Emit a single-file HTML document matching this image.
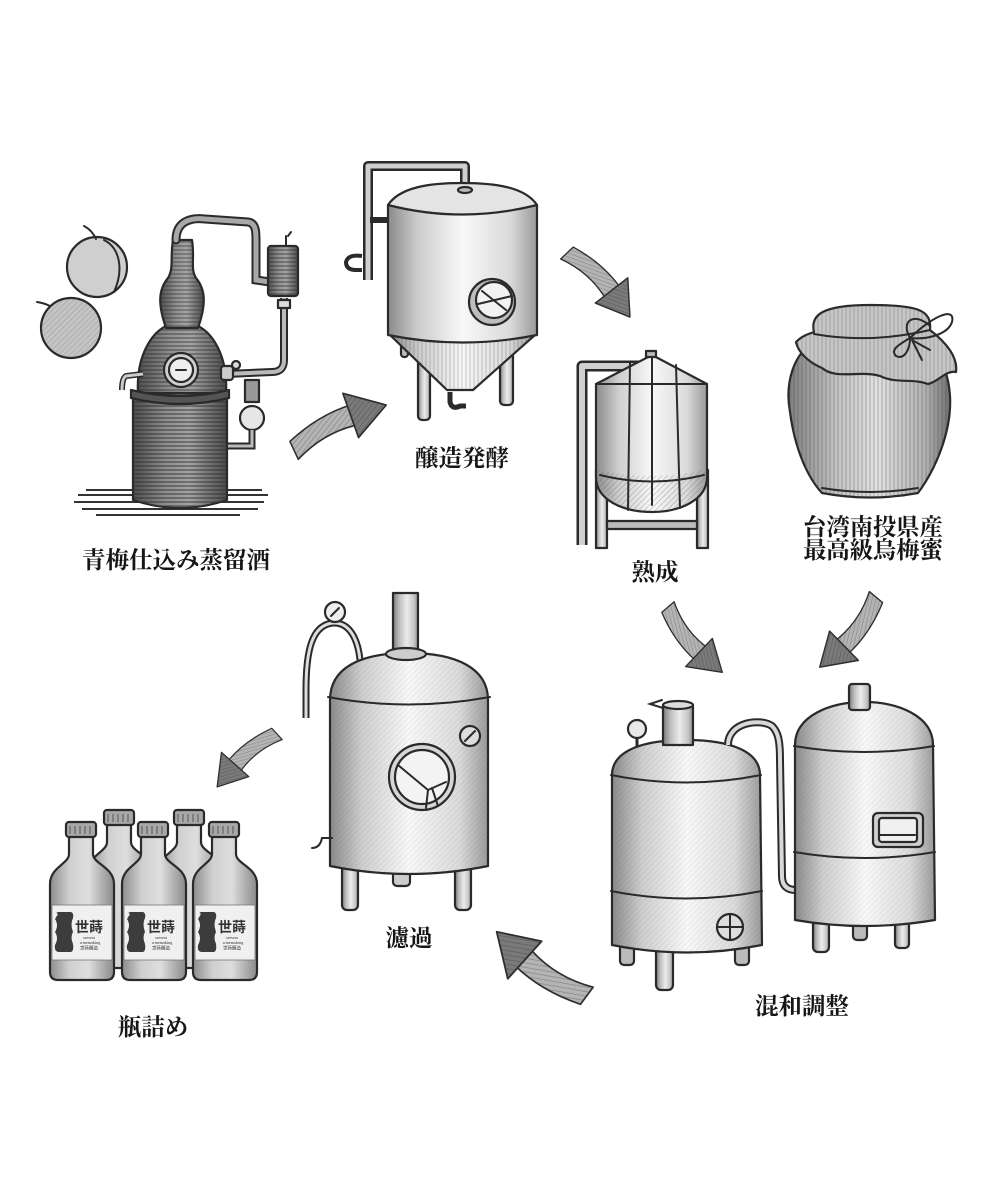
<!DOCTYPE html>
<html><head><meta charset="utf-8">
<style>
html,body{margin:0;padding:0;background:#fff;}
svg{display:block}
.t{font-family:"Liberation Serif","Noto Serif CJK JP","Noto Serif CJK SC",serif;font-weight:700;fill:#161616;text-anchor:middle;}
.o{stroke:#2a2a2a;stroke-width:2.2;stroke-linejoin:round;stroke-linecap:round;}
.p{fill:none;stroke:#2a2a2a;stroke-width:2;stroke-linecap:round;}
</style></head>
<body>
<svg width="1000" height="1200" viewBox="0 0 1000 1200" xmlns="http://www.w3.org/2000/svg">
<defs>
<linearGradient id="cyl" x1="0" x2="1" y1="0" y2="0">
 <stop offset="0" stop-color="#8a8a8a"/><stop offset="0.2" stop-color="#cdcdcd"/><stop offset="0.5" stop-color="#f8f8f8"/><stop offset="0.82" stop-color="#dadada"/><stop offset="1" stop-color="#999"/>
</linearGradient>
<linearGradient id="cyl2" x1="0" x2="1" y1="0" y2="0">
 <stop offset="0" stop-color="#7a7a7a"/><stop offset="0.25" stop-color="#bdbdbd"/><stop offset="0.55" stop-color="#ececec"/><stop offset="0.85" stop-color="#c4c4c4"/><stop offset="1" stop-color="#888"/>
</linearGradient>
<linearGradient id="dark" x1="0" x2="1" y1="0" y2="0">
 <stop offset="0" stop-color="#4e4e4e"/><stop offset="0.35" stop-color="#8e8e8e"/><stop offset="0.6" stop-color="#a4a4a4"/><stop offset="1" stop-color="#4a4a4a"/>
</linearGradient>
<linearGradient id="bot" x1="0" x2="1" y1="0" y2="0">
 <stop offset="0" stop-color="#8c8c8c"/><stop offset="0.3" stop-color="#cfcfcf"/><stop offset="0.6" stop-color="#dedede"/><stop offset="1" stop-color="#8a8a8a"/>
</linearGradient>
<linearGradient id="jar" x1="0" x2="1" y1="0" y2="0">
 <stop offset="0" stop-color="#7e7e7e"/><stop offset="0.3" stop-color="#c4c4c4"/><stop offset="0.55" stop-color="#e2e2e2"/><stop offset="0.85" stop-color="#b0b0b0"/><stop offset="1" stop-color="#707070"/>
</linearGradient>
<pattern id="hl" width="6" height="4" patternUnits="userSpaceOnUse"><line x1="0" y1="2" x2="6" y2="2" stroke="#2e2e2e" stroke-width="1.1"/></pattern>
<pattern id="vl" width="4" height="6" patternUnits="userSpaceOnUse"><line x1="2" y1="0" x2="2" y2="6" stroke="#444" stroke-width="0.8"/></pattern>
<pattern id="dg" width="4" height="4" patternUnits="userSpaceOnUse" patternTransform="rotate(45)"><line x1="0" y1="0" x2="0" y2="4" stroke="#3a3a3a" stroke-width="1.2"/></pattern>
<g id="arr">
 <path d="M0,40 Q30,18 62,12 L64,32 Q32,36 6,58 Z" fill="#b4b4b4" stroke="#2e2e2e" stroke-width="1.5" stroke-linejoin="round"/>
 <path d="M0,40 Q30,18 62,12 L64,32 Q32,36 6,58 Z" fill="url(#dg)" opacity="0.4"/>
 <path d="M56,0 L96,16 L66,44 Z" fill="#7a7a7a" stroke="#2e2e2e" stroke-width="1.6" stroke-linejoin="round"/>
 <path d="M56,0 L96,16 L66,44 Z" fill="url(#dg)" opacity="0.5"/>
</g>
<g id="bottle">
 <path d="M19,14 L19,32 C19,42 0,45 0,62 L0,150 Q0,158 8,158 L56,158 Q64,158 64,150 L64,62 C64,45 43,42 43,32 L43,14 Z" fill="url(#bot)" class="o" stroke-width="1.8"/>
 <rect x="16" y="0" width="30" height="15" rx="3" fill="#a8a8a8" class="o" stroke-width="1.8"/>
 <path d="M20,4 v8 M25,4 v8 M30,4 v8 M35,4 v8 M40,4 v8" stroke="#555" stroke-width="1"/>
</g>
<g id="label">
 <rect x="2" y="83" width="60" height="55" fill="#f0f0f0" stroke="#777" stroke-width="0.8"/>
 <path d="M8,92 Q5,91 8,90 L21,90 Q24,91 23,96 Q20,102 23,110 Q20,115 23,122 Q24,129 21,130 L8,130 Q4,129 5,123 Q9,116 5,110 Q9,103 5,97 Z" fill="#3c3c3c"/>
 <text x="39" y="110" font-size="14" font-family="'Noto Sans CJK JP','Noto Sans CJK SC',sans-serif" font-weight="700" fill="#333" text-anchor="middle">世蒔</text>
 <text x="39" y="117" font-size="4.2" font-family="'Liberation Serif',serif" fill="#333" text-anchor="middle">seesera</text>
 <text x="40" y="122" font-size="4.2" font-family="'Liberation Serif',serif" fill="#333" text-anchor="middle">winemaking</text>
 <text x="39" y="127.5" font-size="4.5" font-family="'Noto Sans CJK JP',sans-serif" fill="#333" text-anchor="middle">世蒔醸造</text>
</g>
</defs>

<!-- ===== Plums ===== -->
<circle cx="97" cy="267" r="30" fill="#cfcfcf" class="o"/>
<path d="M104,240 C120,248 124,270 114,292" class="p" stroke-width="1.4"/>
<path d="M96,239 Q92,230 84,226" class="p" stroke-width="2"/>
<circle cx="71" cy="328" r="30" fill="#c4c4c4" class="o"/>
<path d="M50,306 Q44,303 37,302" class="p" stroke-width="2"/>
<circle cx="71" cy="328" r="30" fill="url(#dg)" opacity="0.25"/>

<!-- ===== Still ===== -->
<g>
 <path d="M78,495 L268,495 M74,502 L264,502 M82,509 L258,509 M96,515 L240,515 M86,490 L150,490 M210,490 L262,490" stroke="#333" stroke-width="2"/>
 <path d="M133,393 L133,500 Q180,516 227,500 L227,393 Z" fill="url(#dark)" class="o"/>
 <path d="M133,393 L133,500 Q180,516 227,500 L227,393 Z" fill="url(#hl)" opacity="0.8"/>
 <path d="M138,393 C136,355 152,333 166,326 L198,326 C212,333 228,355 226,393 Z" fill="url(#dark)" class="o"/>
 <path d="M138,393 C136,355 152,333 166,326 L198,326 C212,333 228,355 226,393 Z" fill="url(#hl)" opacity="0.7"/>
 <path d="M131,390 Q180,402 229,390 L229,398 Q180,410 131,398 Z" fill="#555" class="o" stroke-width="1.5"/>
 <path d="M166,328 C158,305 158,290 168,278 C174,268 170,258 173,240 L192,240 C195,258 190,268 196,278 C206,290 206,305 198,328 Z" fill="url(#dark)" class="o"/>
 <path d="M166,328 C158,305 158,290 168,278 C174,268 170,258 173,240 L192,240 C195,258 190,268 196,278 C206,290 206,305 198,328 Z" fill="url(#hl)" opacity="0.6"/>
 <path d="M176,240 C176,222 190,217 205,219 L248,222 C256,223 256,232 256,240 L256,280 L270,282" fill="none" stroke="#2a2a2a" stroke-width="9" stroke-linecap="round"/>
 <path d="M176,240 C176,222 190,217 205,219 L248,222 C256,223 256,232 256,240 L256,280 L270,282" fill="none" stroke="#a8a8a8" stroke-width="5" stroke-linecap="round"/>
 <rect x="268" y="246" width="30" height="50" rx="3" fill="url(#dark)" class="o"/>
 <rect x="268" y="246" width="30" height="50" fill="url(#hl)" opacity="0.7"/>
 <path d="M286,246 L286,236 M288,236 l3,-4" class="p"/>
 <path d="M284,298 L284,360 Q284,372 272,372 L226,374" fill="none" stroke="#2a2a2a" stroke-width="8"/>
 <path d="M284,298 L284,360 Q284,372 272,372 L226,374" fill="none" stroke="#bbb" stroke-width="4"/>
 <rect x="278" y="300" width="12" height="8" fill="#ddd" class="o" stroke-width="1.5"/>
 <circle cx="181" cy="370" r="17" fill="#d0d0d0" class="o"/>
 <circle cx="181" cy="370" r="12" fill="#eee" class="o" stroke-width="1.5"/>
 <path d="M176,370 h10" class="p"/>
 <path d="M143,374 L126,376 Q122,378 122,390" fill="none" stroke="#2a2a2a" stroke-width="6"/>
 <path d="M143,374 L126,376 Q122,378 122,390" fill="none" stroke="#ccc" stroke-width="3"/>
 <rect x="221" y="366" width="12" height="14" rx="3" fill="#ccc" class="o" stroke-width="1.5"/>
 <circle cx="236" cy="365" r="4" fill="#ddd" class="o" stroke-width="1.4"/>
 <rect x="245" y="380" width="14" height="22" fill="#999" class="o" stroke-width="1.5"/>
 <circle cx="252" cy="418" r="12" fill="#e6e6e6" class="o"/>
 <path d="M252,430 L252,446 L228,446" fill="none" stroke="#2a2a2a" stroke-width="7"/>
 <path d="M252,430 L252,446 L228,446" fill="none" stroke="#bbb" stroke-width="3"/>
</g>

<!-- ===== Fermentation tank ===== -->
<g>
 <path d="M465,192 L465,166 L368,166 L368,280" fill="none" stroke="#2a2a2a" stroke-width="10" stroke-linejoin="round"/>
 <path d="M465,192 L465,166 L368,166 L368,280" fill="none" stroke="#cfcfcf" stroke-width="5" stroke-linejoin="round"/>
 <path d="M370,220 L390,220" stroke="#2a2a2a" stroke-width="6"/>
 <path d="M362,256 Q348,254 346,262 Q346,270 356,270 L362,270" fill="none" stroke="#2a2a2a" stroke-width="4"/>
 <rect x="418" y="335" width="12" height="85" rx="4" fill="url(#cyl2)" class="o" stroke-width="1.8"/>
 <rect x="500" y="340" width="13" height="65" rx="4" fill="url(#cyl2)" class="o" stroke-width="1.8"/>
 <rect x="401" y="335" width="7" height="22" rx="3" fill="#bbb" class="o" stroke-width="1.5"/>
 <path d="M390,335 L447,390 L473,390 L535,335 Z" fill="url(#cyl)" class="o"/>
 <path d="M390,335 L447,390 L473,390 L535,335 Z" fill="url(#vl)" opacity="0.35"/>
 <path d="M388,205 L388,335 Q462,350 537,335 L537,205 Z" fill="url(#cyl)" class="o"/>
 <path d="M388,205 C400,187 430,183 462,183 C495,183 525,187 537,205 Q462,224 388,205 Z" fill="#e4e4e4" class="o"/>
 <ellipse cx="465" cy="190" rx="7" ry="3" fill="#bbb" class="o" stroke-width="1.5"/>
 <path d="M450,392 L450,402 Q452,410 460,406 L466,406" fill="none" stroke="#2a2a2a" stroke-width="5"/>
 <circle cx="492" cy="302" r="23" fill="#bdbdbd" class="o"/>
 <circle cx="494" cy="300" r="18" fill="#f2f2f2" class="o" stroke-width="1.8"/>
 <path d="M482,291 L506,310 M478,304 L512,296" class="p" stroke-width="2.2"/>
</g>

<!-- ===== Maturing tank ===== -->
<g>
 <path d="M582,545 L582,366 L640,366" fill="none" stroke="#2a2a2a" stroke-width="11" stroke-linejoin="round"/>
 <path d="M582,545 L582,366 L640,366" fill="none" stroke="#cfcfcf" stroke-width="6" stroke-linejoin="round"/>
 <rect x="596" y="470" width="11" height="78" fill="url(#cyl2)" class="o" stroke-width="1.8"/>
 <rect x="697" y="470" width="11" height="78" fill="url(#cyl2)" class="o" stroke-width="1.8"/>
 <rect x="607" y="521" width="90" height="8" fill="#bbb" class="o" stroke-width="1.6"/>
 <path d="M596,384 L652,355 L707,384 L707,477 C707,500 680,512 652,512 C623,512 596,500 596,477 Z" fill="url(#cyl)" class="o"/>
 <path d="M596,384 L707,384" class="p" stroke-width="1.6"/>
 <path d="M652,355 L652,505 M630,362 L628,510 M676,365 L680,508 M600,475 Q652,488 704,475" class="p" stroke-width="1" stroke="#555"/>
 <path d="M598,470 C600,500 625,512 652,512 C680,512 705,500 705,470 Q652,482 598,470 Z" fill="url(#dg)" opacity="0.35"/>
 <rect x="646" y="351" width="10" height="6" fill="#bbb" class="o" stroke-width="1.4"/>
</g>

<!-- ===== Honey jar ===== -->
<g>
 <path d="M818,340 C792,352 785,385 790,412 C795,450 808,478 822,493 Q870,502 918,493 C935,470 952,432 950,396 C948,366 936,346 916,338 Z" fill="url(#jar)" class="o"/>
 <path d="M818,340 C792,352 785,385 790,412 C795,450 808,478 822,493 Q870,502 918,493 C935,470 952,432 950,396 C948,366 936,346 916,338 Z" fill="url(#vl)" opacity="0.45"/>
 <path d="M822,488 Q870,496 918,488" class="p" stroke-width="1.6"/>
 <path d="M814,332 C810,315 822,305 870,305 C918,305 932,310 930,330 C948,344 958,358 956,372 C946,370 938,382 928,384 C912,378 896,384 880,376 C860,370 836,380 822,368 C808,362 798,352 796,342 C802,336 808,334 814,332 Z" fill="#c6c6c6" class="o"/>
 <path d="M814,332 C810,315 822,305 870,305 C918,305 932,310 930,330 C948,344 958,358 956,372 C946,370 938,382 928,384 C912,378 896,384 880,376 C860,370 836,380 822,368 C808,362 798,352 796,342 C802,336 808,334 814,332 Z" fill="url(#vl)" opacity="0.35"/>
 <path d="M814,334 Q870,344 930,330" class="p" stroke-width="1.8"/>
 <path d="M910,338 C900,320 915,312 930,326 M910,338 C930,318 956,305 952,322 C948,334 928,340 910,338 M910,338 C898,345 890,350 896,356 C904,360 910,350 910,338 M912,340 L922,360 M912,340 L930,350" class="p" stroke-width="2"/>
</g>

<!-- ===== Blending tanks ===== -->
<g>
 <rect x="620" y="940" width="14" height="25" rx="4" fill="#bbb" class="o" stroke-width="1.6"/>
 <rect x="735" y="940" width="14" height="25" rx="4" fill="#bbb" class="o" stroke-width="1.6"/>
 <rect x="656" y="945" width="17" height="45" rx="5" fill="url(#cyl2)" class="o" stroke-width="1.8"/>
 <path d="M612,775 C612,752 640,740 686,740 C732,740 760,752 760,775 L762,945 Q687,960 612,945 Z" fill="url(#cyl)" class="o"/>
 <path d="M612,775 C612,752 640,740 686,740 C732,740 760,752 760,775 L762,945 Q687,960 612,945 Z" fill="url(#dg)" opacity="0.12"/>
 <path d="M611,775 Q686,790 761,775" class="p" stroke-width="3.5"/>
 <path d="M611,891 Q686,906 762,891" class="p" stroke-width="3.5"/>
 <rect x="663" y="705" width="30" height="40" fill="url(#cyl2)" class="o"/>
 <ellipse cx="678" cy="705" rx="15" ry="4" fill="#ddd" class="o" stroke-width="1.6"/>
 <path d="M663,708 L650,704 L662,700" class="p" stroke-width="1.6"/>
 <path d="M637,738 L637,746" stroke="#2a2a2a" stroke-width="3"/>
 <circle cx="637" cy="729" r="9" fill="#e8e8e8" class="o" stroke-width="1.8"/>
 <circle cx="730" cy="927" r="13" fill="#ddd" class="o"/>
 <path d="M730,914 v26 M717,927 h26" class="p" stroke-width="2"/>
 <path d="M728,745 C728,722 760,718 772,726 C778,732 780,740 780,760 L782,876 Q782,890 796,890 L814,890" fill="none" stroke="#2a2a2a" stroke-width="8" stroke-linejoin="round"/>
 <path d="M728,745 C728,722 760,718 772,726 C778,732 780,740 780,760 L782,876 Q782,890 796,890 L814,890" fill="none" stroke="#d8d8d8" stroke-width="4" stroke-linejoin="round"/>
 <rect x="813" y="915" width="16" height="37" rx="5" fill="url(#cyl2)" class="o" stroke-width="1.8"/>
 <rect x="853" y="915" width="14" height="25" rx="4" fill="#bbb" class="o" stroke-width="1.6"/>
 <rect x="895" y="915" width="14" height="33" rx="4" fill="url(#cyl2)" class="o" stroke-width="1.8"/>
 <path d="M795,745 C795,716 830,702 864,702 C898,702 933,716 933,745 L935,920 Q864,932 795,920 Z" fill="url(#cyl)" class="o"/>
 <path d="M795,745 C795,716 830,702 864,702 C898,702 933,716 933,745 L935,920 Q864,932 795,920 Z" fill="url(#dg)" opacity="0.1"/>
 <path d="M794,746 Q864,758 934,746" class="p" stroke-width="3.5"/>
 <path d="M794,852 Q864,864 935,852" class="p" stroke-width="3.5"/>
 <rect x="849" y="684" width="21" height="26" rx="3" fill="url(#cyl2)" class="o"/>
 <rect x="873" y="813" width="50" height="34" rx="5" fill="#cfcfcf" class="o"/>
 <rect x="879" y="818" width="38" height="24" rx="3" fill="#f0f0f0" class="o" stroke-width="1.5"/>
 <path d="M880,835 L915,835" class="p" stroke-width="2"/>
</g>

<!-- ===== Filter tank ===== -->
<g>
 <rect x="393" y="593" width="25" height="60" fill="url(#cyl2)" class="o" stroke-width="1.8"/>
 <path d="M333,623 C312,625 306,650 306,690 L306,718" fill="none" stroke="#2a2a2a" stroke-width="7"/>
 <path d="M333,623 C312,625 306,650 306,690 L306,718" fill="none" stroke="#ddd" stroke-width="3"/>
 <path d="M333,623 C350,622 358,640 360,660" fill="none" stroke="#2a2a2a" stroke-width="7"/>
 <path d="M333,623 C350,622 358,640 360,660" fill="none" stroke="#ddd" stroke-width="3"/>
 <circle cx="335" cy="612" r="10" fill="#eee" class="o" stroke-width="1.8"/>
 <path d="M331,616 L339,608" class="p" stroke-width="1.4"/>
 <rect x="342" y="865" width="16" height="45" rx="5" fill="url(#cyl2)" class="o" stroke-width="1.8"/>
 <rect x="455" y="865" width="16" height="45" rx="5" fill="url(#cyl2)" class="o" stroke-width="1.8"/>
 <rect x="393" y="868" width="17" height="18" rx="4" fill="#ccc" class="o" stroke-width="1.6"/>
 <path d="M330,700 C330,668 360,653 408,653 C456,653 488,668 488,700 L488,866 Q409,882 330,866 Z" fill="url(#cyl)" class="o"/>
 <path d="M330,700 C330,668 360,653 408,653 C456,653 488,668 488,700 L488,866 Q409,882 330,866 Z" fill="url(#dg)" opacity="0.12"/>
 <path d="M328,697 Q408,712 490,697" class="p" stroke-width="3.5"/>
 <ellipse cx="406" cy="654" rx="20" ry="6" fill="#ccc" class="o" stroke-width="1.8"/>
 <circle cx="422" cy="777" r="33" fill="#d6d6d6" class="o" stroke-width="2.4"/>
 <circle cx="422" cy="777" r="27" fill="#f3f3f3" class="o" stroke-width="1.8"/>
 <path d="M398,765 L428,790 L446,782 M428,790 L426,808 M432,788 L438,806" class="p" stroke-width="2.4"/>
 <circle cx="470" cy="736" r="10" fill="#ddd" class="o" stroke-width="1.8"/>
 <path d="M465,741 L475,731" class="p" stroke-width="2"/>
 <path d="M332,838 L322,838 Q320,848 312,848" class="p" stroke-width="2.4"/>
</g>

<!-- ===== Bottles ===== -->
<g>
 <use href="#bottle" transform="translate(88,810)"/>
 <use href="#bottle" transform="translate(158,810)"/>
 <use href="#bottle" transform="translate(50,822)"/>
 <use href="#label" transform="translate(50,822)"/>
 <use href="#bottle" transform="translate(122,822)"/>
 <use href="#label" transform="translate(122,822)"/>
 <use href="#bottle" transform="translate(193,822)"/>
 <use href="#label" transform="translate(193,822)"/>
</g>

<!-- ===== Arrows ===== -->
<use href="#arr" transform="translate(293,450) rotate(-6.7) scale(1.04) translate(-2,-48.5)"/>
<use href="#arr" transform="translate(567,252) rotate(65) scale(0.91) translate(-2,-48.5)"/>
<use href="#arr" transform="translate(667,607) rotate(30.7) scale(0.86,-0.86) translate(-2,-48.5)"/>
<use href="#arr" transform="translate(877,597) rotate(148.3) scale(0.91) translate(-2,-48.5)"/>
<use href="#arr" transform="translate(277,733) rotate(118.9) scale(0.81,-0.81) translate(-2,-48.5)"/>
<use href="#arr" transform="translate(587,997) rotate(-125.1) scale(1.12) translate(-2,-48.5)"/>

<!-- ===== Labels ===== -->
<text class="t" x="176" y="568" font-size="23.5">青梅仕込み蒸留酒</text>
<text class="t" x="462" y="466" font-size="23.5">醸造発酵</text>
<text class="t" x="655" y="580" font-size="23.5">熟成</text>
<text class="t" x="873" y="535" font-size="23.3">台湾南投県産</text>
<text class="t" x="873" y="558" font-size="23.3">最高級烏梅蜜</text>
<text class="t" x="802" y="1014" font-size="23.5">混和調整</text>
<text class="t" x="409" y="946" font-size="23.5">濾過</text>
<text class="t" x="153" y="1035" font-size="23.5">瓶詰め</text>
</svg>
</body></html>
